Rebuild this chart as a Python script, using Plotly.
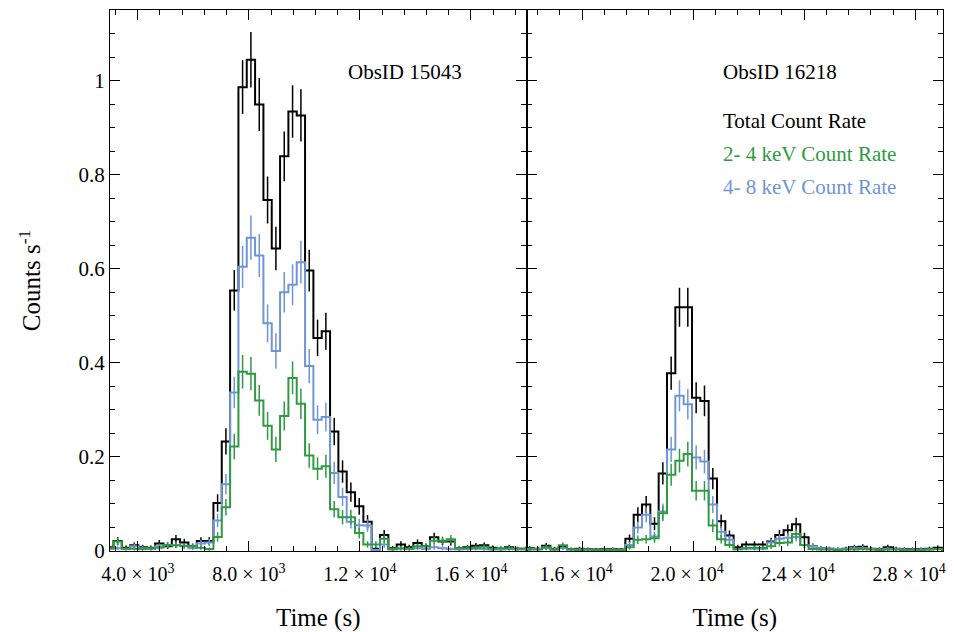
import numpy as np
import plotly.graph_objects as go
from plotly.subplots import make_subplots

# ---------------- data (count rates, counts/s, 300 s bins) ----------------
BIN_S = 300.0
START_15043 = 2825.0    # left edge of first bin, ObsID 15043 (s)
START_16218 = 13960.0   # left edge of first bin, ObsID 16218 (s)

total_15043 = [0.008, 0.021, 0.007, 0.012, 0.008, 0.007, 0.016, 0.010, 0.025, 0.018,
               0.010, 0.021, 0.021, 0.102, 0.233, 0.554, 0.986, 1.044, 0.949, 0.746,
               0.643, 0.839, 0.934, 0.926, 0.596, 0.453, 0.467, 0.254, 0.169, 0.125,
               0.095, 0.062, 0.005, 0.034, 0.006, 0.014, 0.008, 0.017, 0.010, 0.029,
               0.020, 0.020, 0.006, 0.008, 0.011, 0.012, 0.007, 0.005, 0.008, 0.005,
               0.005]
soft_15043 = [0.006, 0.020, 0.005, 0.005, 0.004, 0.006, 0.007, 0.013, 0.012, 0.011,
              0.010, 0.007, 0.004, 0.030, 0.093, 0.222, 0.381, 0.377, 0.320, 0.266,
              0.216, 0.287, 0.368, 0.313, 0.203, 0.175, 0.180, 0.089, 0.072, 0.072,
              0.038, 0.014, 0.014, 0.026, 0.004, 0.006, 0.005, 0.010, 0.010, 0.022,
              0.022, 0.025, 0.006, 0.006, 0.007, 0.009, 0.005, 0.006, 0.006, 0.005,
              0.005]
hard_15043 = [0.005, 0.006, 0.004, 0.010, 0.006, 0.004, 0.010, 0.012, 0.012, 0.010,
              0.006, 0.016, 0.018, 0.065, 0.142, 0.337, 0.604, 0.666, 0.628, 0.484,
              0.425, 0.550, 0.566, 0.614, 0.393, 0.279, 0.285, 0.166, 0.115, 0.062,
              0.055, 0.054, 0.002, 0.014, 0.003, 0.005, 0.004, 0.006, 0.004, 0.008,
              0.006, 0.004, 0.003, 0.004, 0.005, 0.004, 0.003, 0.003, 0.004, 0.003,
              0.003]

total_16218 = [0.006, 0.005, 0.011, 0.005, 0.009, 0.004, 0.005, 0.004, 0.003, 0.004,
               0.004, 0.003, 0.026, 0.077, 0.099, 0.058, 0.165, 0.378, 0.518, 0.518,
               0.326, 0.319, 0.154, 0.063, 0.033, 0.008, 0.014, 0.014, 0.014, 0.020,
               0.034, 0.044, 0.057, 0.029, 0.010, 0.006, 0.005, 0.004, 0.005, 0.008,
               0.009, 0.005, 0.004, 0.008, 0.005, 0.004, 0.004, 0.004, 0.005, 0.007,
               0.004]
soft_16218 = [0.003, 0.003, 0.008, 0.003, 0.012, 0.003, 0.002, 0.003, 0.002, 0.002,
              0.002, 0.002, 0.008, 0.024, 0.025, 0.027, 0.080, 0.162, 0.192, 0.206,
              0.128, 0.128, 0.054, 0.025, 0.013, 0.004, 0.007, 0.007, 0.007, 0.010,
              0.017, 0.018, 0.036, 0.013, 0.004, 0.003, 0.003, 0.002, 0.003, 0.003,
              0.004, 0.003, 0.002, 0.003, 0.003, 0.002, 0.002, 0.002, 0.003, 0.004,
              0.002]
hard_16218 = [0.004, 0.004, 0.006, 0.003, 0.006, 0.003, 0.003, 0.003, 0.002, 0.003,
              0.003, 0.002, 0.013, 0.050, 0.077, 0.031, 0.084, 0.216, 0.330, 0.312,
              0.199, 0.190, 0.099, 0.041, 0.024, 0.003, 0.005, 0.005, 0.005, 0.018,
              0.026, 0.028, 0.030, 0.013, 0.010, 0.006, 0.005, 0.004, 0.004, 0.006,
              0.006, 0.004, 0.003, 0.005, 0.004, 0.003, 0.003, 0.003, 0.003, 0.004,
              0.003]

x_tickvals_left = [4000, 8000, 12000, 16000]
x_ticktext_left = ["4.0 × 10<sup>3</sup>", "8.0 × 10<sup>3</sup>",
                   "1.2 × 10<sup>4</sup>", "1.6 × 10<sup>4</sup>"]
x_tickvals_right = [16000, 20000, 24000, 28000]
x_ticktext_right = ["1.6 × 10<sup>4</sup>", "2.0 × 10<sup>4</sup>",
                    "2.4 × 10<sup>4</sup>", "2.8 × 10<sup>4</sup>"]

# ---------------- style ----------------
BLACK = "#000000"
GREEN = "#2E9A42"
BLUE = "#6F95D5"
FONT = "Liberation Serif, Times New Roman, serif"

fig = make_subplots(rows=1, cols=2, shared_yaxes=True, horizontal_spacing=0)


def add_series(vals, start, color, col):
    v = np.asarray(vals, dtype=float)
    n = len(v)
    edges = start + BIN_S * np.arange(n + 1)
    centers = start + BIN_S * (np.arange(n) + 0.5)
    err = np.sqrt(v * BIN_S) / BIN_S  # Poisson error of a rate in a 300 s bin
    fig.add_trace(go.Scatter(x=edges, y=np.append(v, v[-1]), mode="lines",
                             line=dict(shape="hv", color=color, width=2),
                             showlegend=False, hoverinfo="skip"), row=1, col=col)
    fig.add_trace(go.Scatter(x=centers, y=v, mode="markers",
                             marker=dict(size=1, color="rgba(0,0,0,0)"),
                             error_y=dict(type="data", array=err, color=color,
                                          thickness=1.5, width=0),
                             showlegend=False, hoverinfo="skip"), row=1, col=col)


for vals, color in [(total_15043, BLACK), (hard_15043, BLUE), (soft_15043, GREEN)]:
    add_series(vals, START_15043, color, 1)
for vals, color in [(total_16218, BLACK), (hard_16218, BLUE), (soft_16218, GREEN)]:
    add_series(vals, START_16218, color, 2)

xtickfont = dict(family=FONT, size=20, color="black")
ytickfont = dict(family=FONT, size=21, color="black")
titlefont = dict(family=FONT, size=25, color="black")

common_x = dict(ticks="inside", ticklen=10, tickwidth=1.2, tickcolor="black",
                showline=True, linecolor="black", linewidth=1.2, mirror="ticks",
                showgrid=False, zeroline=False, tickfont=xtickfont,
                automargin=False, ticklabeloverflow="allow", ticklabelstandoff=5,
                minor=dict(dtick=800, tick0=0, ticks="inside", ticklen=5,
                           tickwidth=1, tickcolor="black", showgrid=False),
                title=dict(text="Time (s)", font=titlefont, standoff=25))

fig.update_xaxes(range=[3000, 18000], tickmode="array", tickvals=x_tickvals_left,
                 ticktext=x_ticktext_left, row=1, col=1, **common_x)
fig.update_xaxes(range=[14000, 29000], tickmode="array", tickvals=x_tickvals_right,
                 ticktext=x_ticktext_right, ticklabelshift=-6, row=1, col=2,
                 **common_x)

common_y = dict(range=[0, 1.15], tick0=0, dtick=0.2, ticks="inside", ticklen=10,
                tickwidth=1.2, tickcolor="black", showline=True, linecolor="black",
                linewidth=1.2, mirror="ticks", showgrid=False, zeroline=False,
                tickfont=ytickfont, automargin=False,
                minor=dict(dtick=0.05, tick0=0, ticks="inside", ticklen=5,
                           tickwidth=1, tickcolor="black", showgrid=False))
fig.update_yaxes(row=1, col=1,
                 title=dict(text="Counts s<sup>-1</sup>", font=titlefont, standoff=30),
                 **common_y)
fig.update_yaxes(row=1, col=2, showticklabels=False, **common_y)

annos = [
    ("ObsID 15043", 0.283, 0.885, BLACK),
    ("ObsID 16218", 0.733, 0.885, BLACK),
    ("Total Count Rate", 0.733, 0.795, BLACK),
    ("2- 4 keV Count Rate", 0.733, 0.734, GREEN),
    ("4- 8 keV Count Rate", 0.733, 0.673, BLUE),
]
for text, x, y, c in annos:
    fig.add_annotation(text=text, x=x, y=y, xref="paper", yref="paper",
                       xanchor="left", yanchor="middle", showarrow=False,
                       font=dict(family=FONT, size=21, color=c))

# The page body has an 8 px margin, so the figure is sized to fill the rest
# of the 954x632 window.
fig.update_layout(width=946, height=624, margin=dict(l=102, r=11, t=2, b=81),
                  paper_bgcolor="white", plot_bgcolor="white", showlegend=False)

fig.write_html("out.html")
